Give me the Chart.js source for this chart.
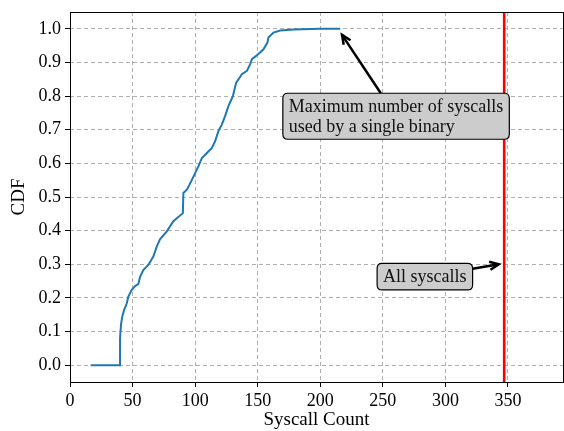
<!DOCTYPE html>
<html>
<head>
<meta charset="utf-8">
<script src="https://cdn.jsdelivr.net/npm/chart.js@4"></script>
<style>
  html, body { margin: 0; padding: 0; background: #fff; }
  #wrap { width: 564px; height: 431px; }
</style>
</head>
<body>
<div id="wrap"><canvas id="cdfChart" width="564" height="431"></canvas></div>
<script>
// syscall counts (x) and cumulative fraction (y)
const syscallCount = [16.5, 40, 40, 40.8, 41.8, 43.2, 45.4, 46.6, 49.4, 52, 54.6, 56, 58.6, 62.6, 66.6, 69.4, 72, 77.4, 82.6, 90.2, 90.6, 93.4, 95.4, 97.4, 100, 102.6, 105.4, 109.4, 113.4, 116, 118.6, 121.4, 124, 126.6, 130.2, 132.8, 137.4, 141.4, 144, 145.4, 150.6, 154.6, 157.8, 158.6, 162.6, 168, 178.6, 200, 216];
const cdfValue = [0, 0, 0.08, 0.122, 0.145, 0.164, 0.184, 0.204, 0.224, 0.235, 0.241, 0.263, 0.283, 0.298, 0.323, 0.353, 0.375, 0.398, 0.428, 0.452, 0.512, 0.522, 0.536, 0.551, 0.571, 0.591, 0.616, 0.631, 0.646, 0.666, 0.696, 0.716, 0.741, 0.77, 0.8, 0.84, 0.865, 0.875, 0.895, 0.91, 0.925, 0.939, 0.959, 0.974, 0.989, 0.995, 0.998, 1.0, 1.0];

const allSyscalls = 347;
const xTicks = [0, 50, 100, 150, 200, 250, 300, 350];
const yTicks = [0, 0.1, 0.2, 0.3, 0.4, 0.5, 0.6, 0.7, 0.8, 0.9, 1.0];

// annotation text, where the box sits and where its arrow points (data units)
const notes = [
  { lines: ['Maximum number of syscalls', 'used by a single binary'], x: 260.6, y: 0.74, tx: 217.4, ty: 0.982 },
  { lines: ['All syscalls'], x: 283.6, y: 0.263, tx: 342.7, ty: 0.30 }
];

const FONT = '"Liberation Serif", "Times New Roman", serif';

let points = syscallCount.map((v, i) => ({ x: v, y: cdfValue[i] }));

function roundRect(ctx, x, y, w, h, r) {
  ctx.beginPath();
  ctx.moveTo(x + r, y);
  ctx.lineTo(x + w - r, y);
  ctx.quadraticCurveTo(x + w, y, x + w, y + r);
  ctx.lineTo(x + w, y + h - r);
  ctx.quadraticCurveTo(x + w, y + h, x + w - r, y + h);
  ctx.lineTo(x + r, y + h);
  ctx.quadraticCurveTo(x, y + h, x, y + h - r);
  ctx.lineTo(x, y + r);
  ctx.quadraticCurveTo(x, y, x + r, y);
  ctx.closePath();
}

const framePlugin = {
  id: 'frame',
  afterDatasetsDraw(chart) {
    const ctx = chart.ctx, a = chart.chartArea;
    ctx.save();
    ctx.strokeStyle = '#000';
    ctx.lineWidth = 1;
    ctx.strokeRect(a.left + 0.5, a.top + 0.5, a.right - a.left, a.bottom - a.top);
    ctx.restore();
  }
};

const notePlugin = {
  id: 'notes',
  afterDraw(chart) {
    const ctx = chart.ctx, xs = chart.scales.x, ys = chart.scales.y;
    ctx.save();
    ctx.font = '18px ' + FONT;
    notes.forEach(n => {
      const cx = xs.getPixelForValue(n.x), cy = ys.getPixelForValue(n.y);
      const tw = Math.max(...n.lines.map(l => ctx.measureText(l).width));
      const lineH = 19.5;
      const w = tw + 12, h = n.lines.length * lineH + 7;
      const bx = cx - w / 2, by = cy - h / 2;

      // arrow from box edge to target
      const tx = xs.getPixelForValue(n.tx), ty = ys.getPixelForValue(n.ty);
      const dx = tx - cx, dy = ty - cy;
      let s = Infinity;
      if (dx !== 0) s = Math.min(s, (w / 2) / Math.abs(dx));
      if (dy !== 0) s = Math.min(s, (h / 2) / Math.abs(dy));
      const sx = cx + dx * s, sy = cy + dy * s;
      const ang = Math.atan2(ty - sy, tx - sx);
      ctx.strokeStyle = '#000';
      ctx.lineWidth = 2.5;
      ctx.lineCap = 'butt';
      ctx.beginPath();
      ctx.moveTo(sx, sy);
      ctx.lineTo(tx, ty);
      ctx.stroke();
      ctx.beginPath();
      ctx.moveTo(tx - 10 * Math.cos(ang - 0.42), ty - 10 * Math.sin(ang - 0.42));
      ctx.lineTo(tx, ty);
      ctx.lineTo(tx - 10 * Math.cos(ang + 0.42), ty - 10 * Math.sin(ang + 0.42));
      ctx.stroke();

      // box
      roundRect(ctx, bx, by, w, h, 5);
      ctx.fillStyle = '#cccccc';
      ctx.fill();
      ctx.lineWidth = 1.2;
      ctx.stroke();

      ctx.fillStyle = '#111';
      ctx.textAlign = 'left';
      ctx.textBaseline = 'middle';
      n.lines.forEach((l, i) => {
        ctx.fillText(l, bx + 6, by + 3.5 + lineH * (i + 0.5) + 1);
      });
    });
    ctx.restore();
  }
};

const ctx = document.getElementById('cdfChart').getContext('2d');
new Chart(ctx, {
  type: 'line',
  data: {
    datasets: [
      {
        data: points,
        borderColor: '#1f77b4',
        borderWidth: 2,
        pointRadius: 0,
        tension: 0,
        fill: false
      },
      {
        data: [{ x: allSyscalls, y: -0.05 }, { x: allSyscalls, y: 1.05 }],
        borderColor: '#ff0000',
        borderWidth: 2.6,
        pointRadius: 0,
        fill: false
      }
    ]
  },
  options: {
    responsive: false,
    animation: false,
    layout: { padding: { top: 12, right: 1, left: 0, bottom: 0 } },
    plugins: { legend: { display: false }, tooltip: { enabled: false } },
    scales: {
      x: {
        type: 'linear',
        min: 0,
        max: 394,
        afterBuildTicks: s => { s.ticks = xTicks.map(v => ({ value: v })); },
        afterFit: s => { s.height = 49; s.paddingRight = 0; },
        grid: { color: '#b0b0b0', lineWidth: 1, tickLength: 5, tickColor: '#000', tickBorderDash: [] },
        border: { display: false, dash: [4, 3] },
        ticks: { color: '#000', padding: 3, maxRotation: 0, font: { family: FONT, size: 18 } },
        title: { display: true, text: 'Syscall Count', color: '#000', padding: { top: 0, bottom: 0 }, font: { family: FONT, size: 19 } }
      },
      y: {
        type: 'linear',
        min: -0.05,
        max: 1.05,
        afterBuildTicks: s => { s.ticks = yTicks.map(v => ({ value: v })); },
        afterFit: s => { s.width = 70; s.paddingTop = 0; s.paddingBottom = 0; },
        grid: { color: '#b0b0b0', lineWidth: 1, tickLength: 5, tickColor: '#000', tickBorderDash: [] },
        border: { display: false, dash: [4, 3] },
        ticks: { color: '#000', padding: 4, callback: v => v.toFixed(1), font: { family: FONT, size: 18 } },
        title: { display: true, text: 'CDF', color: '#000', padding: { top: 8, bottom: 0 }, font: { family: FONT, size: 19 } }
      }
    }
  },
  plugins: [framePlugin, notePlugin]
});
</script>
</body>
</html>
